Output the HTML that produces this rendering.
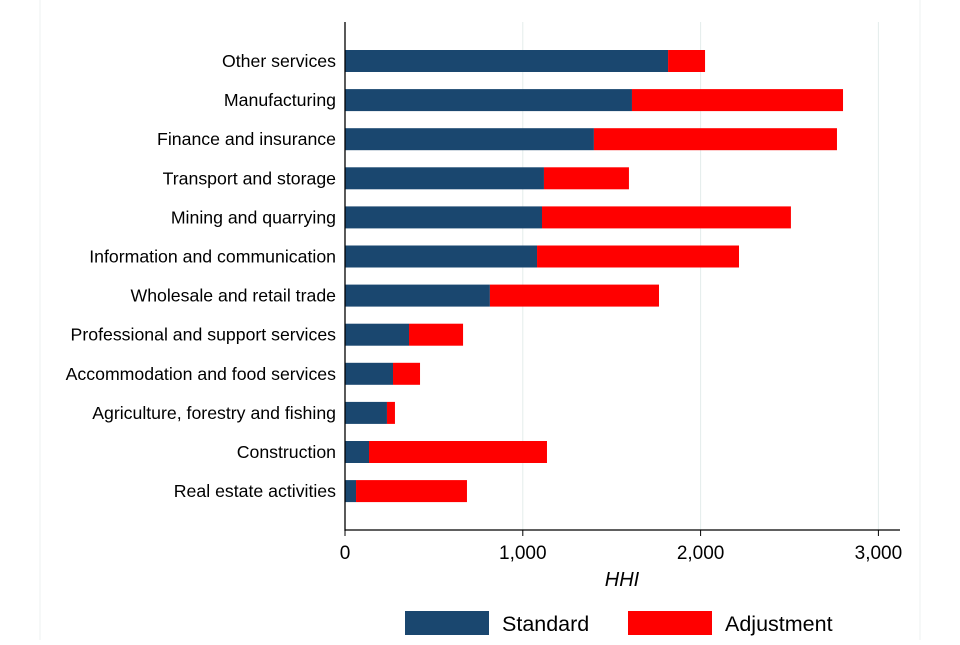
<!DOCTYPE html>
<html><head><meta charset="utf-8"><style>
body{margin:0;background:#fff;font-family:"Liberation Sans",Arial,sans-serif}
svg text{font-family:"Liberation Sans",Arial,sans-serif}
</style></head><body>
<svg id="c" width="960" height="640">
<line x1="40" y1="0" x2="40" y2="640" stroke="#eef2f2"/>
<line x1="920" y1="0" x2="920" y2="640" stroke="#eef2f2"/>
<g id="grid"></g><g id="bars"></g><g id="axes"></g>
<g>
<rect x="405" y="611" width="84" height="24" fill="#1a476f"/>
<text x="502" y="631" font-size="21.5" fill="#000">Standard</text>
<rect x="628" y="611" width="84" height="24" fill="#ff0000"/>
<text x="725" y="631" font-size="21.5" fill="#000">Adjustment</text>
</g>
</svg>
<script>
const categories=["Other services","Manufacturing","Finance and insurance","Transport and storage","Mining and quarrying","Information and communication","Wholesale and retail trade","Professional and support services","Accommodation and food services","Agriculture, forestry and fishing","Construction","Real estate activities"];
const standard=[1817,1614,1400,1119,1108,1080,815,360,270,236,135,62];
const adjustment=[208,1187,1367,478,1400,1136,951,304,152,45,1001,624];
const ticks=[0,1000,2000,3000];
const tickLabels=["0","1,000","2,000","3,000"];
const NS="http://www.w3.org/2000/svg";
const x0=345,pxPer=177.8/1000,y0=61,step=39.1,bh=22;
const X=v=>x0+v*pxPer, Y=i=>y0+i*step;
function mk(p,t,a){const e=document.createElementNS(NS,t);for(const k in a)e.setAttribute(k,a[k]);p.appendChild(e);return e;}
const G=document.getElementById('grid'),B=document.getElementById('bars'),A=document.getElementById('axes');
ticks.forEach((t,i)=>{
 if(t>0){const g=mk(G,'line',{x1:X(t),x2:X(t),y1:22,y2:530,stroke:'#e4eceb'});
 
 }
 const tk=mk(A,'line',{x1:X(t),x2:X(t),y1:530,y2:536,stroke:'#000'});
 
 
 const tl=mk(A,'text',{x:X(t),y:559,'font-size':19,'text-anchor':'middle'});tl.textContent=tickLabels[i];
 
 
});
categories.forEach((c,i)=>{
 const y=Y(i);
 const r1=mk(B,'rect',{x:X(0),y:y-bh/2,width:X(standard[i])-X(0),height:bh,fill:'#1a476f'});
 
 
 const r2=mk(B,'rect',{x:X(standard[i]),y:y-bh/2,width:X(standard[i]+adjustment[i])-X(standard[i]),height:bh,fill:'#ff0000'});
 
 
 const t=mk(A,'text',{x:336,y:y+6,'font-size':17.7,'text-anchor':'end'});t.textContent=c;
 
 
});
const ya=mk(A,'line',{x1:345,x2:345,y1:22,y2:531,stroke:'#000','stroke-width':1.3});


const xa=mk(A,'line',{x1:345,x2:900,y1:530,y2:530,stroke:'#000','stroke-width':1.3});


const xt=mk(A,'text',{x:622,y:586,'font-size':20,'font-style':'italic','text-anchor':'middle'});xt.textContent='HHI';


</script>
</body></html>
